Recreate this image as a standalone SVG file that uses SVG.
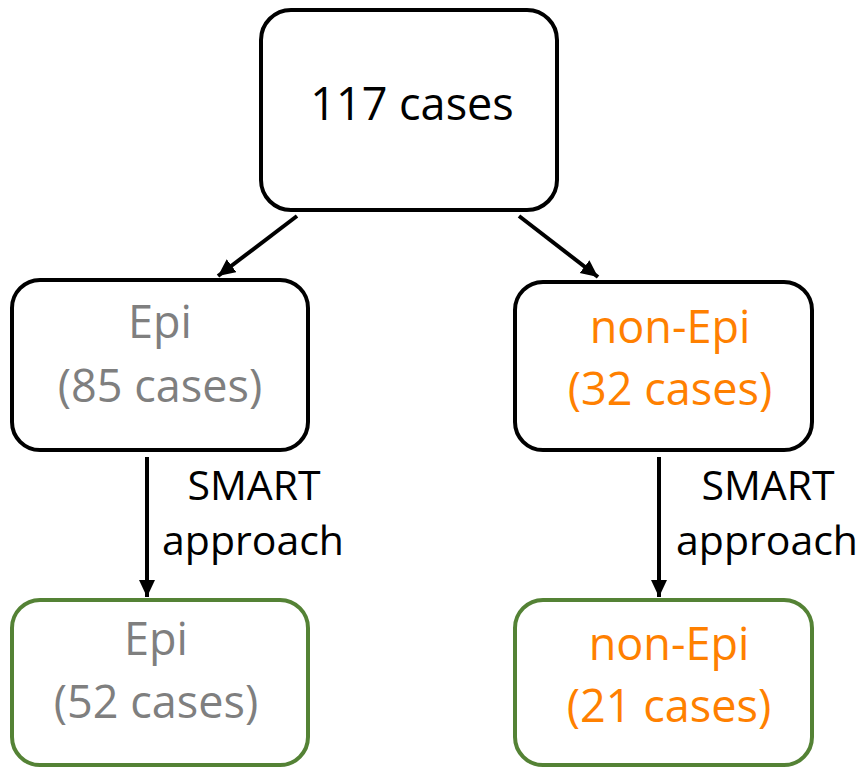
<svg xmlns="http://www.w3.org/2000/svg" width="861" height="768" viewBox="0 0 861 768">
<style>
.box{fill:#fff;stroke:#000;stroke-width:4}
.gbox{fill:#fff;stroke:#548235;stroke-width:4}
text{font-family:"Open Sans","Noto Sans",sans-serif;text-anchor:middle}
.big{font-size:45px}
.lab{font-size:41px;fill:#000}
.gray{fill:#7f7f7f}
.orange{fill:#ff8000}
.conn{stroke:#000;stroke-width:4;fill:none}
</style>
<defs>
<marker id="ah" markerUnits="userSpaceOnUse" markerWidth="18" markerHeight="18" refX="17" refY="8" orient="auto">
<path d="M0,0 L17,8 L0,16 Z" fill="#000"/>
</marker>
</defs>
<rect width="861" height="768" fill="#fff"/>
<g id="connectors">
<line class="conn" x1="297" y1="216" x2="218" y2="276" marker-end="url(#ah)"/>
<line class="conn" x1="519" y1="216" x2="598" y2="277" marker-end="url(#ah)"/>
<line class="conn" x1="147" y1="457" x2="147" y2="597" marker-end="url(#ah)"/>
<line class="conn" x1="659" y1="457" x2="659" y2="597" marker-end="url(#ah)"/>
<text class="lab" x="254" y="500">SMART</text>
<text class="lab" x="253" y="555">approach</text>
<text class="lab" x="768" y="500">SMART</text>
<text class="lab" x="767" y="555">approach</text>
</g>
<g id="root">
<rect class="box" x="261" y="10" width="296" height="200" rx="30"/>
<text class="big" x="412" y="120">117 cases</text>
</g>
<g id="epi">
<rect class="box" x="12" y="280" width="296" height="170" rx="28"/>
<text class="big gray" x="160" y="338">Epi</text>
<text class="big gray" x="160" y="402">(85 cases)</text>
</g>
<g id="nonepi">
<rect class="box" x="515" y="282" width="297" height="168" rx="28"/>
<text class="big orange" x="670" y="343">non-Epi</text>
<text class="big orange" x="670" y="405">(32 cases)</text>
</g>
<g id="epi2">
<rect class="gbox" x="12" y="600" width="296" height="165" rx="28"/>
<text class="big gray" x="156" y="655">Epi</text>
<text class="big gray" x="156" y="718">(52 cases)</text>
</g>
<g id="nonepi2">
<rect class="gbox" x="515" y="600" width="297" height="165" rx="28"/>
<text class="big orange" x="669" y="660">non-Epi</text>
<text class="big orange" x="669" y="722">(21 cases)</text>
</g>
</svg>
